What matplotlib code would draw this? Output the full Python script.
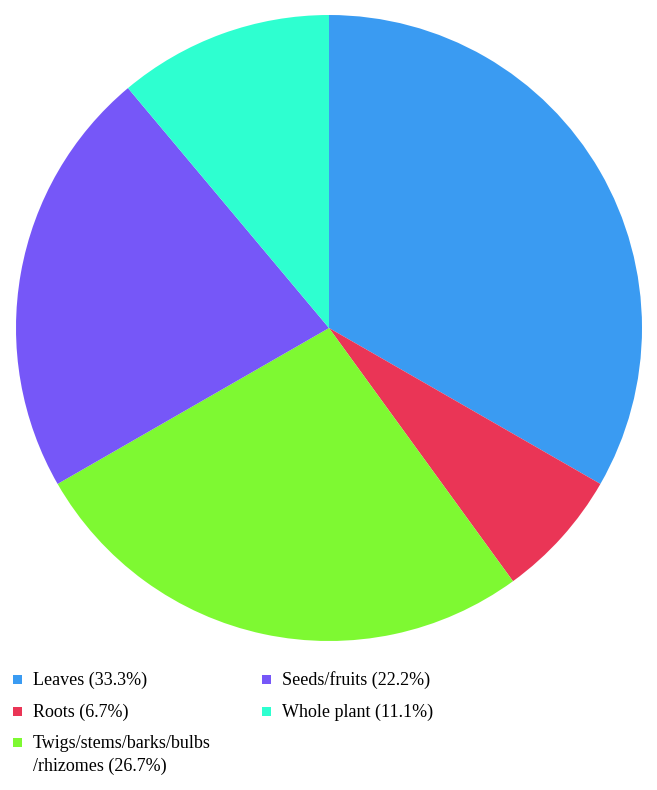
import matplotlib
matplotlib.use("Agg")
import matplotlib.pyplot as plt
from matplotlib.patches import Rectangle

labels = ["Leaves (33.3%)", "Roots (6.7%)", "Twigs/stems/barks/bulbs\n/rhizomes (26.7%)",
          "Seeds/fruits (22.2%)", "Whole plant (11.1%)"]
values = [33.3, 6.7, 26.7, 22.2, 11.1]
colors = ["#3A9BF2", "#EA3556", "#7EF932", "#7657F8", "#2EFFD0"]

plt.rcParams["font.family"] = ["Liberation Serif", "DejaVu Serif"]

W, H = 657, 790
fig = plt.figure(figsize=(W / 100, H / 100), dpi=100)
ax = fig.add_axes([16 / W, 149 / H, 626 / W, 626 / H])
ax.pie(values, colors=colors, startangle=90, counterclock=False, radius=1.0,
       wedgeprops=dict(linewidth=0))
ax.set_xlim(-1, 1)
ax.set_ylim(-1, 1)
ax.set_aspect("equal")
ax.axis("off")

# legend drawn by hand: column-major, 3 rows in the first column
col_x = [13, 262]
row_base = [685, 717, 748]
for i, (lab, c) in enumerate(zip(labels, colors)):
    col, row = divmod(i, 3)
    x, yb = col_x[col], row_base[row]
    fig.add_artist(Rectangle((x / W, 1 - (yb - 1) / H), 9 / W, 9 / H,
                             transform=fig.transFigure, facecolor=c, edgecolor="none"))
    first, *rest = lab.split("\n")
    fig.text((x + 20) / W, 1 - yb / H, first, fontsize=13, va="baseline", ha="left")
    for k, line in enumerate(rest, start=1):
        fig.text((x + 20) / W, 1 - (yb + 23 * k) / H, line, fontsize=13, va="baseline", ha="left")

fig.savefig("out.png", dpi=100)
